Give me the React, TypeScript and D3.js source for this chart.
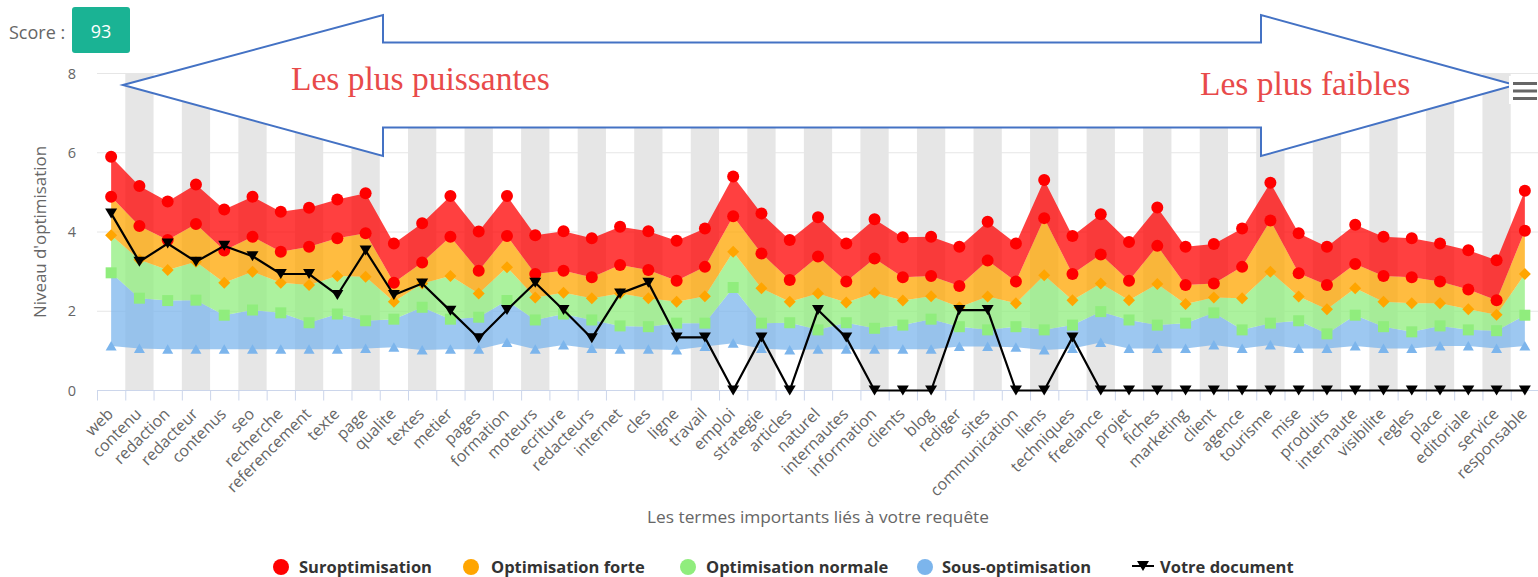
import * as d3 from 'd3';

const categories = [
  'web', 'contenu', 'redaction', 'redacteur', 'contenus', 'seo', 'recherche', 'referencement', 'texte', 'page',
  'qualite', 'textes', 'metier', 'pages', 'formation', 'moteurs', 'ecriture', 'redacteurs', 'internet', 'cles',
  'ligne', 'travail', 'emploi', 'strategie', 'articles', 'naturel', 'internautes', 'information', 'clients', 'blog',
  'rediger', 'sites', 'communication', 'liens', 'techniques', 'freelance', 'projet', 'fiches', 'marketing', 'client',
  'agence', 'tourisme', 'mise', 'produits', 'internaute', 'visibilite', 'regles', 'place', 'editoriale', 'service',
  'responsable',
];

// bornes des plages (valeur basse de chaque série, + haut de la suroptimisation)
const surOptHaut = [
  5.9, 5.16, 4.77, 5.2, 4.57, 4.89, 4.51, 4.61, 4.82, 4.98,
  3.71, 4.22, 4.91, 4.01, 4.91, 3.92, 4.02, 3.84, 4.13, 4.02,
  3.78, 4.09, 5.4, 4.47, 3.8, 4.37, 3.71, 4.32, 3.87, 3.88,
  3.63, 4.26, 3.71, 5.31, 3.9, 4.45, 3.75, 4.62, 3.63, 3.7,
  4.09, 5.24, 3.97, 3.63, 4.18, 3.88, 3.84, 3.71, 3.54, 3.29,
  5.04,
];
const surOptBas = [
  4.89, 4.15, 3.8, 4.2, 3.53, 3.88, 3.5, 3.63, 3.84, 3.97,
  2.72, 3.23, 3.88, 3.02, 3.9, 2.94, 3.02, 2.86, 3.17, 3.04,
  2.77, 3.12, 4.4, 3.46, 2.79, 3.38, 2.75, 3.33, 2.86, 2.89,
  2.64, 3.28, 2.75, 4.35, 2.94, 3.43, 2.77, 3.65, 2.66, 2.7,
  3.12, 4.29, 2.96, 2.66, 3.19, 2.89, 2.86, 2.75, 2.55, 2.28,
  4.03,
];
const optForte = [
  3.92, 3.3, 3.04, 3.25, 2.72, 3.0, 2.72, 2.66, 2.89, 2.87,
  2.24, 2.7, 2.89, 2.45, 3.11, 2.35, 2.47, 2.33, 2.45, 2.33,
  2.24, 2.38, 3.5, 2.58, 2.24, 2.45, 2.22, 2.47, 2.27, 2.38,
  2.1, 2.37, 2.2, 2.91, 2.28, 2.7, 2.28, 2.69, 2.18, 2.35,
  2.33, 3.0, 2.37, 2.05, 2.58, 2.24, 2.2, 2.2, 2.05, 1.91,
  2.94,
];
const optNormale = [
  2.97, 2.33, 2.27, 2.28, 1.9, 2.03, 1.96, 1.71, 1.93, 1.76,
  1.8, 2.1, 1.8, 1.85, 2.27, 1.78, 1.93, 1.78, 1.63, 1.61,
  1.7, 1.7, 2.6, 1.7, 1.71, 1.53, 1.71, 1.57, 1.65, 1.8,
  1.61, 1.53, 1.61, 1.53, 1.65, 1.99, 1.78, 1.65, 1.7, 1.96,
  1.53, 1.7, 1.76, 1.43, 1.9, 1.61, 1.48, 1.63, 1.53, 1.51,
  1.9,
];
const sousOpt = [
  1.12, 1.06, 1.04, 1.04, 1.04, 1.04, 1.04, 1.04, 1.04, 1.06,
  1.09, 1.02, 1.04, 1.04, 1.21, 1.04, 1.15, 1.06, 1.04, 1.04,
  1.02, 1.11, 1.19, 1.06, 1.02, 1.04, 1.04, 1.04, 1.04, 1.04,
  1.11, 1.11, 1.09, 1.02, 1.06, 1.21, 1.06, 1.06, 1.06, 1.15,
  1.06, 1.15, 1.06, 1.06, 1.12, 1.06, 1.06, 1.12, 1.12, 1.06,
  1.12,
];
const votreDocument = [
  4.47, 3.25, 3.71, 3.25, 3.65, 3.39, 2.94, 2.94, 2.41, 3.53,
  2.41, 2.7, 2.01, 1.32, 2.03, 2.72, 2.03, 1.32, 2.45, 2.72,
  1.34, 1.34, 0, 1.34, 0, 2.03, 1.34, 0, 0, 0,
  2.03, 2.03, 0, 0, 1.34, 0, 0, 0, 0, 0,
  0, 0, 0, 0, 0, 0, 0, 0, 0, 0,
  0,
];
const yTicks = [0, 2, 4, 6, 8];

const font = '"Open Sans", "DejaVu Sans", sans-serif';

type Marker = 'circle' | 'diamond' | 'square' | 'triangle';

function markerPath(type: Marker | 'triangle-down', x: number, y: number) {
  switch (type) {
    case 'circle':
      return `M${x - 6},${y}a6,6 0 1,0 12,0a6,6 0 1,0 -12,0Z`;
    case 'diamond':
      return `M${x},${y - 6}L${x + 6},${y}L${x},${y + 6}L${x - 6},${y}Z`;
    case 'square':
      return `M${x - 5.5},${y - 5.5}h11v11h-11Z`;
    case 'triangle':
      return `M${x},${y - 5}L${x + 5.5},${y + 4.5}L${x - 5.5},${y + 4.5}Z`;
    default:
      return `M${x - 6},${y - 5}L${x + 6},${y - 5}L${x},${y + 5}Z`;
  }
}

export default function App() {
  const width = 1538;
  const height = 577;

  const x = d3.scaleBand<string>().domain(categories).range([97, 1539]).padding(0);
  const y = d3.scaleLinear().domain([0, 8]).range([390.5, 73.5]);
  const cx = (i: number) => (x(categories[i]) as number) + x.bandwidth() / 2;
  const idx = d3.range(categories.length);

  const series = [
    { name: 'Sous-optimisation', color: '#7cb5ec', low: sousOpt, high: optNormale, marker: 'triangle' as Marker },
    { name: 'Optimisation normale', color: '#90ed7d', low: optNormale, high: optForte, marker: 'square' as Marker },
    { name: 'Optimisation forte', color: '#ffa500', low: optForte, high: surOptBas, marker: 'diamond' as Marker },
    { name: 'Suroptimisation', color: '#ff0000', low: surOptBas, high: surOptHaut, marker: 'circle' as Marker },
  ];

  const docLine = d3.line<number>().x(i => cx(i)).y(i => y(votreDocument[i]));

  const legend = [
    { name: 'Suroptimisation', color: '#ff0000', sx: 281, tx: 299 },
    { name: 'Optimisation forte', color: '#ffa500', sx: 471, tx: 491 },
    { name: 'Optimisation normale', color: '#90ed7d', sx: 688, tx: 706 },
    { name: 'Sous-optimisation', color: '#7cb5ec', sx: 925, tx: 942 },
  ];
  const legendY = 567;

  return (
    <svg width={width} height={height} style={{ position: 'absolute', left: 0, top: 0, background: '#fff' }}
      fontFamily={font}>
      {/* score */}
      <text x={9} y={39} fontSize={18} fill="#666">Score :</text>
      <rect x={72} y={7} width={58} height={46} rx={3} fill="#1ab394" />
      <text x={101} y={38} fontSize={18} fill="#fff" textAnchor="middle">93</text>

      {/* bandes alternées */}
      {idx.filter(i => i % 2 === 1).map(i => (
        <rect key={'b' + i} x={x(categories[i])} y={y(8)} width={x.bandwidth()} height={y(0) - y(8)} fill="#e6e6e6" />
      ))}
      {yTicks.map(t => (
        <g key={'g' + t}>
          <line x1={97} x2={1539} y1={y(t)} y2={y(t)} stroke="#e6e6e6" />
          <text x={76} y={y(t) + 5} fontSize={14.5} fill="#666" textAnchor="end">{t}</text>
        </g>
      ))}
      <text transform="translate(46,232) rotate(-90)" fontSize={16} fill="#666" textAnchor="middle"
        textLength={172} lengthAdjust="spacingAndGlyphs">Niveau d'optimisation</text>

      {/* plages */}
      {series.map(s => {
        const area = d3.area<number>().x(i => cx(i)).y0(i => y(s.low[i])).y1(i => y(s.high[i]));
        return (
          <g key={s.name}>
            <path d={area(idx) as string} fill={s.color} fillOpacity={0.75} />
            {idx.map(i => (
              <path key={i} d={markerPath(s.marker, cx(i), y(s.low[i]))} fill={s.color} />
            ))}
            {s.marker === 'circle' && idx.map(i => (
              <path key={'h' + i} d={markerPath('circle', cx(i), y(s.high[i]))} fill={s.color} />
            ))}
          </g>
        );
      })}

      {/* axe x */}
      <line x1={97} x2={1539} y1={390.5} y2={390.5} stroke="#ccd6eb" />
      {idx.map(i => (
        <line key={'t' + i} x1={(x(categories[i]) as number) + 0.5} x2={(x(categories[i]) as number) + 0.5}
          y1={390.5} y2={400.5} stroke="#ccd6eb" />
      ))}
      {categories.map((c, i) => (
        <text key={c} transform={`translate(${cx(i) + 3},${415}) rotate(-45)`} fontSize={16} fill="#666" textAnchor="end">{c}</text>
      ))}
      <text x={818} y={523} fontSize={17} fill="#666" textAnchor="middle"
        textLength={342} lengthAdjust="spacingAndGlyphs">Les termes importants liés à votre requête</text>

      {/* votre document */}
      <path d={docLine(idx) as string} fill="none" stroke="#000" strokeWidth={2.2} />
      {idx.map(i => (
        <path key={'d' + i} d={markerPath('triangle-down', cx(i), y(votreDocument[i]))} fill="#000" />
      ))}

      {/* légende */}
      {legend.map(l => (
        <g key={l.name}>
          <circle cx={l.sx} cy={legendY} r={8} fill={l.color} />
          <text x={l.tx} y={legendY + 5.5} fontSize={16.5} fontWeight="bold" fill="#333">{l.name}</text>
        </g>
      ))}
      <line x1={1132} x2={1154} y1={legendY - 1} y2={legendY - 1} stroke="#000" strokeWidth={2} />
      <path d={markerPath('triangle-down', 1143, legendY - 1)} fill="#000" />
      <text x={1160} y={legendY + 5.5} fontSize={16.5} fontWeight="bold" fill="#333">Votre document</text>

      {/* flèche double */}
      <path d="M123,85L383,15L383,42.5L1261,42.5L1261,15L1515,85L1261,156L1261,127.5L383,127.5L383,156Z"
        fill="#fff" stroke="#4472c4" strokeWidth={2} />
      <text x={291} y={90} fontSize={33.5} fill="#e84a4a" fontFamily='"Liberation Serif", serif'>Les plus puissantes</text>
      <text x={1200} y={95} fontSize={33.5} fill="#e84a4a" fontFamily='"Liberation Serif", serif'>Les plus faibles</text>

      {/* menu */}
      <rect x={1509} y={76} width={29} height={28} fill="#fff" />
      {[83.5, 91, 98.5].map(v => (
        <line key={v} x1={1513} x2={1537} y1={v} y2={v} stroke="#666" strokeWidth={3} />
      ))}
    </svg>
  );
}
